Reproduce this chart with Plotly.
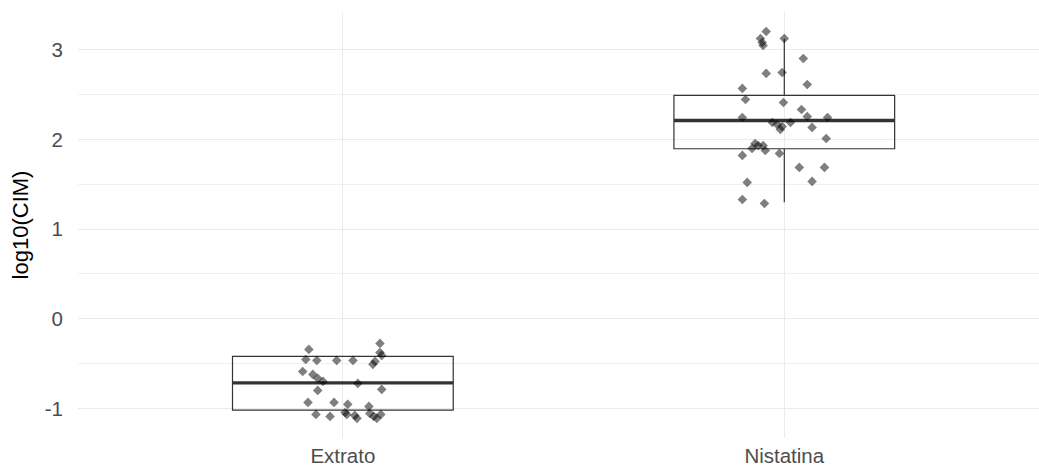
import plotly.graph_objects as go

categories = ["Extrato", "Nistatina"]

# box statistics (log10 CIM)
box_q1 = [-1.02, 1.895]
box_median = [-0.715, 2.21]
box_q3 = [-0.42, 2.49]
box_lower = [-1.02, 1.30]
box_upper = [-0.42, 3.12]

# jittered observations: horizontal jitter (category units) and values
extrato_jitter = [-0.077, -0.084, -0.059, -0.014, 0.023, 0.084, 0.084, 0.088, 0.073, 0.068,
                  -0.091, -0.068, -0.057, -0.045, 0.034, 0.088, -0.057, -0.079, -0.020, 0.011,
                  0.059, -0.061, -0.029, 0.005, 0.009, 0.027, 0.032, 0.061, 0.070, 0.086, 0.077]
extrato_values = [-0.342, -0.454, -0.465, -0.465, -0.465, -0.275, -0.376, -0.409, -0.476, -0.509,
                  -0.588, -0.621, -0.665, -0.699, -0.721, -0.788, -0.799, -0.933, -0.933, -0.955,
                  -0.978, -1.067, -1.089, -1.045, -1.067, -1.078, -1.111, -1.056, -1.089, -1.067, -1.111]

nistatina_jitter = [-0.041, -0.054, -0.050, -0.048, 0.000, 0.043, -0.041, -0.005, 0.052, -0.095,
                    -0.088, -0.002, 0.039, 0.052, 0.098, -0.095, -0.027, -0.016, -0.005, -0.009,
                    0.014, 0.063, 0.095, -0.066, -0.048, -0.073, -0.043, -0.059, -0.095, -0.011,
                    0.034, 0.091, 0.063, -0.084, -0.095, -0.045]
nistatina_values = [3.203, 3.125, 3.080, 3.047, 3.125, 2.902, 2.735, 2.746, 2.612, 2.568,
                    2.445, 2.411, 2.333, 2.255, 2.244, 2.244, 2.188, 2.166, 2.144, 2.110,
                    2.188, 2.133, 2.010, 1.954, 1.932, 1.899, 1.876, 1.932, 1.821, 1.843,
                    1.687, 1.687, 1.531, 1.520, 1.330, 1.285]

y_ticks = [-1, 0, 1, 2, 3]
y_tick_labels = ["-1", "0", "1", "2", "3"]
y_minor = [-0.5, 0.5, 1.5, 2.5]

box_width = 0.5
positions = list(range(len(categories)))

fig = go.Figure()

fig.add_trace(go.Box(
    x=positions, q1=box_q1, median=box_median, q3=box_q3,
    lowerfence=box_lower, upperfence=box_upper,
    width=box_width, fillcolor="rgba(255,255,255,0)",
    line=dict(color="#333333", width=1.2), whiskerwidth=0,
    boxpoints=False, hoverinfo="skip", showlegend=False,
))

# thick median segments
mx, my = [], []
for p, m in zip(positions, box_median):
    mx += [p - box_width / 2, p + box_width / 2, None]
    my += [m, m, None]
fig.add_trace(go.Scatter(x=mx, y=my, mode="lines", line=dict(color="#333333", width=3.4),
                         hoverinfo="skip", showlegend=False))

pts_x = [positions[0] + j for j in extrato_jitter] + [positions[1] + j for j in nistatina_jitter]
pts_y = extrato_values + nistatina_values
fig.add_trace(go.Scatter(
    x=pts_x, y=pts_y, mode="markers",
    marker=dict(symbol="diamond", size=7.4, color="rgba(0,0,0,0.5)", line=dict(width=0)),
    hoverinfo="skip", showlegend=False,
))

fig.update_layout(
    width=1039, height=468,
    margin=dict(l=78, r=0, t=12, b=30, autoexpand=False),
    paper_bgcolor="white", plot_bgcolor="white",
    font=dict(family="Liberation Sans, Arial, sans-serif", size=20, color="#4d4d4d"),
    xaxis=dict(
        range=[-0.6, 1.577], tickvals=positions, ticktext=categories,
        showgrid=True, gridcolor="#ebebeb", gridwidth=1, zeroline=False, showline=False,
        ticks="", ticklabelstandoff=3, automargin=False,
        tickfont=dict(size=20.5, color="#4d4d4d"),
    ),
    yaxis=dict(
        range=[-1.33, 3.42], tickvals=y_ticks, ticktext=y_tick_labels,
        showgrid=True, gridcolor="#ebebeb", gridwidth=1, zeroline=False, showline=False,
        ticks="", ticklabelstandoff=14, automargin=False,
        minor=dict(tickvals=y_minor, showgrid=True, gridcolor="#f0f0f0", gridwidth=1),
        tickfont=dict(size=20.5, color="#4d4d4d"),
        title=dict(text="log10(CIM)", font=dict(size=22, color="#000000"), standoff=10),
    ),
)

fig.write_html("out.html", config={"displayModeBar": False},
               post_script="document.body.style.margin='0';document.body.style.overflow='hidden';")
